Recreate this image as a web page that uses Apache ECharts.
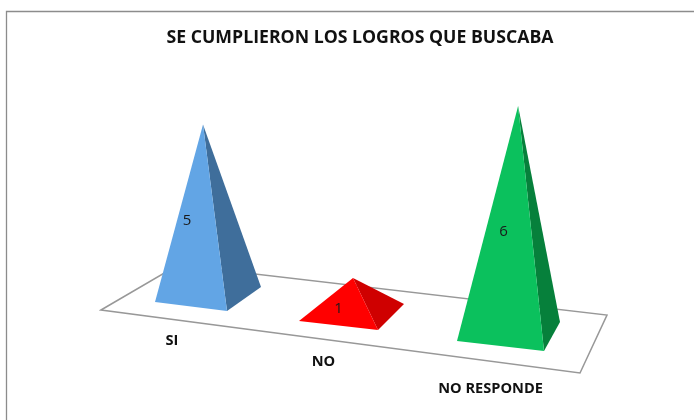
<!DOCTYPE html>
<html>
<head>
<meta charset="utf-8">
<style>
  html, body { margin: 0; padding: 0; background: #fff; }
  #main { width: 694px; height: 420px; }
</style>
<script src="https://cdn.jsdelivr.net/npm/echarts@6/dist/echarts.min.js"></script>
</head>
<body>
<div id="main"></div>
<script>
// data
var categories = ['SI', 'NO', 'NO RESPONDE'];
var values = [5, 1, 6];

// faces of each pyramid
var frontColors = ['#62a5e5', '#ff0000', '#0bc15d'];
var sideColors = ['#3f6e9b', '#cf0000', '#06803b'];

// fake perspective, one entry per category (px)
var baseShift = [3, -3.5, 3.5];       // base centre relative to the category slot
var floorDrop = [0, 18, 37];          // floor goes down to the right
var heightScale = [1, 1.015, 1.105];  // nearer = taller
var apexLean = [-1, 1.5, 1.6];        // apex x drift per unit of value
// footprint relative to base centre: front left, front right, back right
var footprints = [
  [[-53, 7.5], [19, 16.5], [53, -7.5]],
  [[-52.5, 8.5], [26.5, 17.5], [52.5, -8.5]],
  [[-51.5, 9.5], [35.5, 19.5], [51.5, -9.5]]
];
var labelOffsets = [[-21, -74], [-13, -4], [-5, -100]];
var nameOffsets = [[-36, 46], [-28, 49.5], [-18, 57.5]];

var floorPoints = [[101, 310], [178, 265], [607, 315], [580, 373]];

var myChart = echarts.init(document.getElementById('main'));

function renderPyramid(params, api) {
  var i = api.value(0);
  var v = api.value(1);
  var p0 = api.coord([i, 0]);
  var p1 = api.coord([i, v]);
  var cx = p0[0] + baseShift[i];
  var cy = p0[1] + floorDrop[i];
  var apex = [cx + apexLean[i] * v, cy - (p0[1] - p1[1]) * heightScale[i]];
  var f = footprints[i];
  var fl = [cx + f[0][0], cy + f[0][1]];
  var fr = [cx + f[1][0], cy + f[1][1]];
  var br = [cx + f[2][0], cy + f[2][1]];
  return {
    type: 'group',
    children: [
      {
        type: 'polygon',
        shape: { points: [apex, fr, br] },
        style: { fill: sideColors[i] }
      },
      {
        type: 'polygon',
        shape: { points: [apex, fl, fr] },
        style: { fill: frontColors[i] }
      },
      {
        type: 'text',
        style: {
          x: cx + labelOffsets[i][0],
          y: cy + labelOffsets[i][1],
          text: String(v),
          fill: '#1a1a1a',
          font: '15px "Open Sans"',
          align: 'center',
          verticalAlign: 'middle'
        }
      },
      {
        type: 'text',
        style: {
          x: cx + nameOffsets[i][0],
          y: cy + nameOffsets[i][1],
          text: categories[i],
          fill: '#111',
          font: 'bold 14.6px "Open Sans"',
          align: 'center',
          verticalAlign: 'middle'
        }
      }
    ]
  };
}

myChart.setOption({
  animation: false,
  backgroundColor: '#fff',
  title: {
    text: 'SE CUMPLIERON LOS LOGROS QUE BUSCABA',
    left: 355,
    top: 33,
    textAlign: 'center',
    textVerticalAlign: 'middle',
    textStyle: {
      color: '#111',
      fontFamily: 'Open Sans',
      fontWeight: 'bold',
      fontSize: 17.7
    }
  },
  grid: { left: 130, width: 450, top: 56.5, height: 238 },
  xAxis: { type: 'category', data: categories, show: false },
  yAxis: { type: 'value', min: 0, max: 7, show: false },
  graphic: [
    {
      type: 'polyline',
      shape: { points: [[6.5, 420], [6.5, 11.5], [694, 11.5]] },
      style: { fill: null, stroke: '#8c8c8c', lineWidth: 1.3 }
    },
    {
      type: 'polygon',
      shape: { points: floorPoints },
      style: { fill: '#fff', stroke: '#989898', lineWidth: 1.5 }
    }
  ],
  series: [
    {
      type: 'custom',
      renderItem: renderPyramid,
      encode: { x: 0, y: 1 },
      data: values.map(function (v, i) { return [i, v]; })
    }
  ]
});
</script>
</body>
</html>
